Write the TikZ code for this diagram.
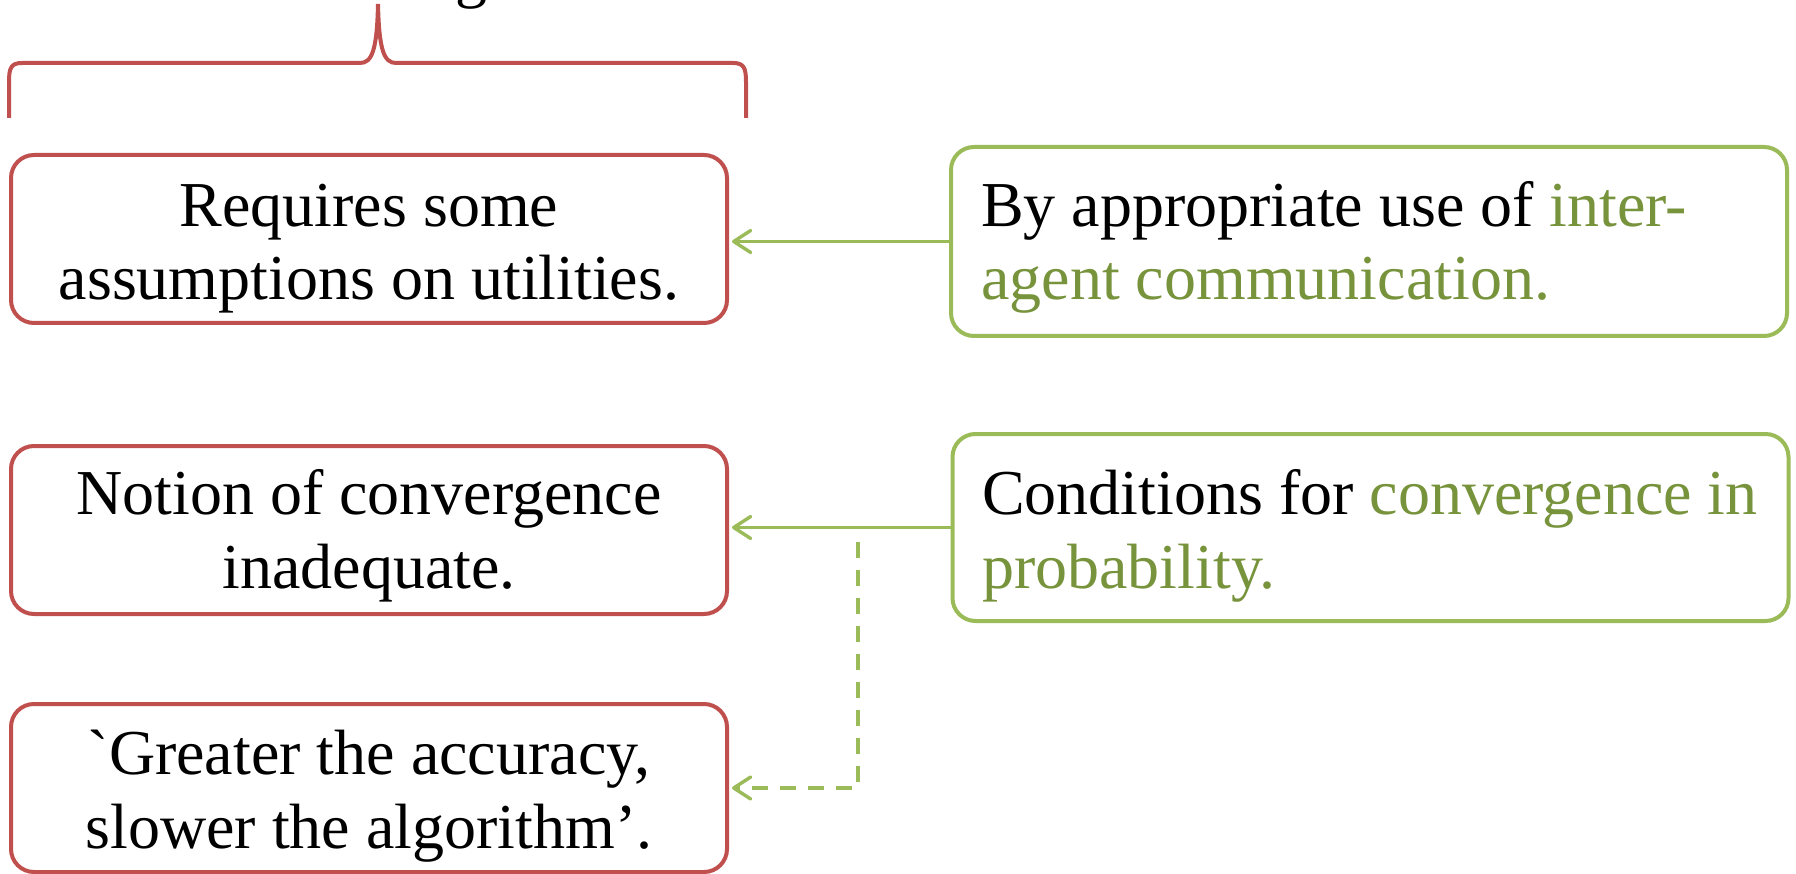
\documentclass[tikz,border=0pt]{standalone}
\usepackage{fontspec}
\setmainfont{Liberation Serif}
% same face without the TeX quote mapping, for a plain grave mark
\newfontfamily\rawserif{Liberation Serif}
\usetikzlibrary{arrows.meta}
\definecolor{boxred}{HTML}{C0504D}
\definecolor{boxgreen}{HTML}{9BBB59}
\definecolor{textgreen}{HTML}{77933C}
\begin{document}
\begin{tikzpicture}[x=1pt,y=-1pt,
  redbox/.style={draw=boxred, line width=4pt, rounded corners=23pt, inner sep=0pt,
    minimum width=716pt, minimum height=168pt},
  greenbox/.style={draw=boxgreen, line width=4pt, rounded corners=23pt, inner sep=0pt,
    minimum width=836pt},
  txt/.style={inner sep=0pt, font=\fontsize{64}{73}\selectfont},
  link/.style={draw=boxgreen, line width=3.4pt,
    -{Straight Barb[length=17pt,width=22pt,round]}, shorten >=3pt},
  bracket/.style={draw=boxred, line width=4pt}
]
\path[use as bounding box] (0,0) rectangle (1796,874);
\clip (0,0) rectangle (1796,874);

% heading above the brace (only its lower edge lies inside the frame)
\node[txt, anchor=base] (head) at (471,-4) {g};

% brace over the left column
\draw[bracket] (9,118) -- (9,82)
  .. controls (9,68) and (11,63) .. (22,63) -- (360,63)
  .. controls (372,63) and (377,50) .. (378,4)
  .. controls (379,50) and (384,63) .. (396,63) -- (733,63)
  .. controls (744,63) and (746,68) .. (746,82) -- (746,118);

% left column
\node[redbox] (r1) at (369,239) {};
\node[redbox] (r2) at (369,530) {};
\node[redbox] (r3) at (369,788) {};

% right column
\node[greenbox, minimum height=189pt] (g1) at (1369,241.5) {};
\node[greenbox, minimum height=187pt] (g2) at (1370.5,527.5) {};

% texts
\node[txt, anchor=base] (r1a) at (369,227) {Requires some};
\node[txt, anchor=base] (r1b) at (369,300) {assumptions on utilities.};
\node[txt, anchor=base] (r2a) at (369,514) {Notion of convergence};
\node[txt, anchor=base] (r2b) at (369,588) {inadequate.};
\node[txt, anchor=base] (r3a) at (369,774) {{\rawserif\symbol{96}}Greater the accuracy,};
\node[txt, anchor=base] (r3b) at (369,848) {slower the algorithm'.};

\node[txt, anchor=base west] (g1a) at (981,227) {By appropriate use of \textcolor{textgreen}{inter-}};
\node[txt, anchor=base west] (g1b) at (981,300) {\textcolor{textgreen}{agent communication.}};
\node[txt, anchor=base west] (g2a) at (982,514) {Conditions for \textcolor{textgreen}{convergence in}};
\node[txt, anchor=base west] (g2b) at (982,588) {\textcolor{textgreen}{probability.}};

% connectors
\draw[link] (g1.west) -- (g1.west -| r1.east);
\draw[link] (g2.west) -- (g2.west -| r2.east);
\coordinate (fork) at (858,542);
\draw[link, dash pattern=on 16pt off 12pt] (fork) -- (fork |- r3.east) -- (r3.east);
\end{tikzpicture}
\end{document}
